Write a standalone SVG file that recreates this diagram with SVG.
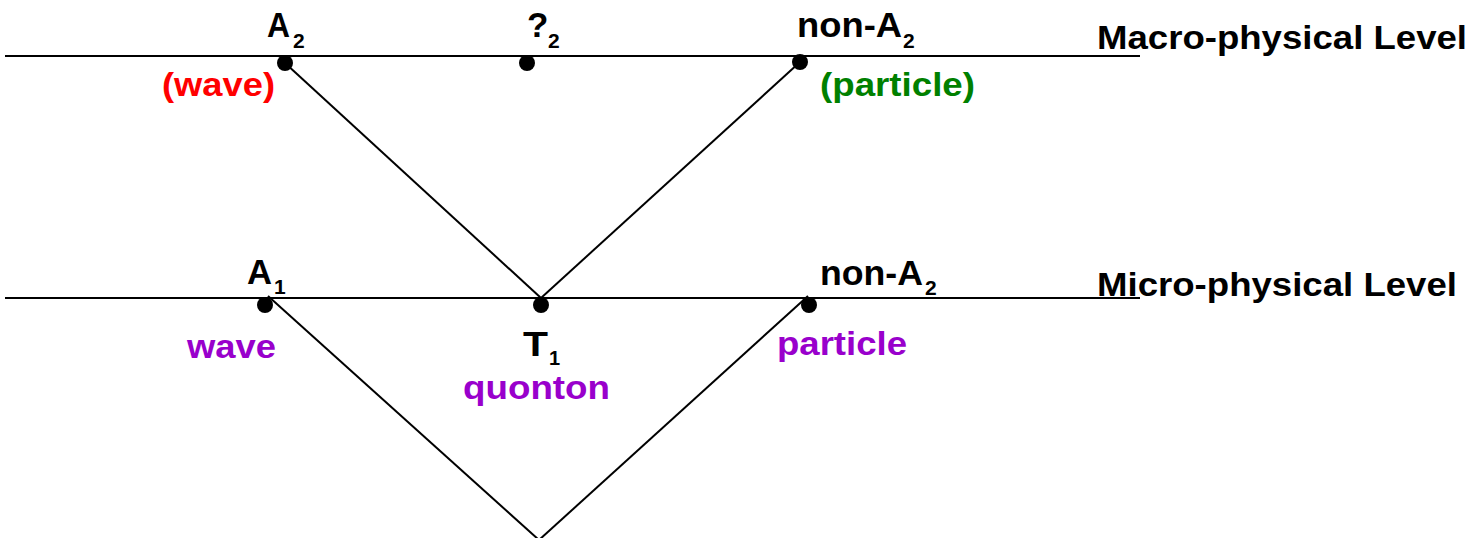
<svg xmlns="http://www.w3.org/2000/svg" width="1480" height="538" viewBox="0 0 1480 538">
<style>
text{font-family:"Liberation Sans",Arial,sans-serif;font-weight:bold;fill:#000}
.m{font-size:35px}
.lv{font-size:33px}
.c{font-size:34px}
.s{font-size:21px}
.red{fill:#FF0000}
.grn{fill:#008000}
.pur{fill:#9900CC}
.ln{stroke:#000;stroke-width:2;fill:none}
.dot{fill:#000}
</style>
<rect width="1480" height="538" fill="#fff"/>
<g id="levels">
<line class="ln" x1="5" y1="56" x2="1140" y2="56"/>
<line class="ln" x1="5" y1="298" x2="1140" y2="298"/>
<text id="macro-label" class="lv" x="1097" y="49" textLength="370" lengthAdjust="spacingAndGlyphs">Macro-physical Level</text>
<text id="micro-label" class="lv" x="1097" y="296" textLength="360" lengthAdjust="spacingAndGlyphs">Micro-physical Level</text>
</g>
<g id="connectors">
<line class="ln" x1="285" y1="63" x2="541" y2="298"/>
<line class="ln" x1="800" y1="62" x2="541" y2="298"/>
<line class="ln" x1="268" y1="296" x2="539" y2="540"/>
<line class="ln" x1="808" y1="296" x2="539" y2="540"/>
</g>
<g id="node-A2">
<circle class="dot" cx="285" cy="63" r="8"/>
<text class="m" x="267" y="37" textLength="23" lengthAdjust="spacingAndGlyphs">A</text>
<text class="s" x="293" y="48">2</text>
<text class="c red" x="162" y="96" textLength="113" lengthAdjust="spacingAndGlyphs">(wave)</text>
</g>
<g id="node-q2">
<circle class="dot" cx="527" cy="63" r="8"/>
<text class="m" x="527" y="37">?</text>
<text class="s" x="548" y="48">2</text>
</g>
<g id="node-nonA2-macro">
<circle class="dot" cx="800" cy="62" r="8"/>
<text class="m" x="797" y="37" textLength="105" lengthAdjust="spacingAndGlyphs">non-A</text>
<text class="s" x="903" y="48">2</text>
<text class="c grn" x="820" y="96" textLength="155" lengthAdjust="spacingAndGlyphs">(particle)</text>
</g>
<g id="node-A1">
<circle class="dot" cx="265" cy="305" r="8"/>
<text class="m" x="247" y="284" textLength="25" lengthAdjust="spacingAndGlyphs">A</text>
<text class="s" x="274" y="294">1</text>
<text class="c pur" x="187" y="358" textLength="89" lengthAdjust="spacingAndGlyphs">wave</text>
</g>
<g id="node-T1">
<circle class="dot" cx="541" cy="305" r="8"/>
<text class="m" x="523" y="356" textLength="25" lengthAdjust="spacingAndGlyphs">T</text>
<text class="s" x="549" y="365" style="font-size:20px">1</text>
<text class="c pur" x="463" y="399" textLength="147" lengthAdjust="spacingAndGlyphs" style="font-size:33px">quonton</text>
</g>
<g id="node-nonA2-micro">
<circle class="dot" cx="809" cy="305" r="8"/>
<text class="m" x="820" y="285" textLength="103" lengthAdjust="spacingAndGlyphs">non-A</text>
<text class="s" x="925" y="295">2</text>
<text class="c pur" x="777" y="355" textLength="130" lengthAdjust="spacingAndGlyphs">particle</text>
</g>
</svg>
